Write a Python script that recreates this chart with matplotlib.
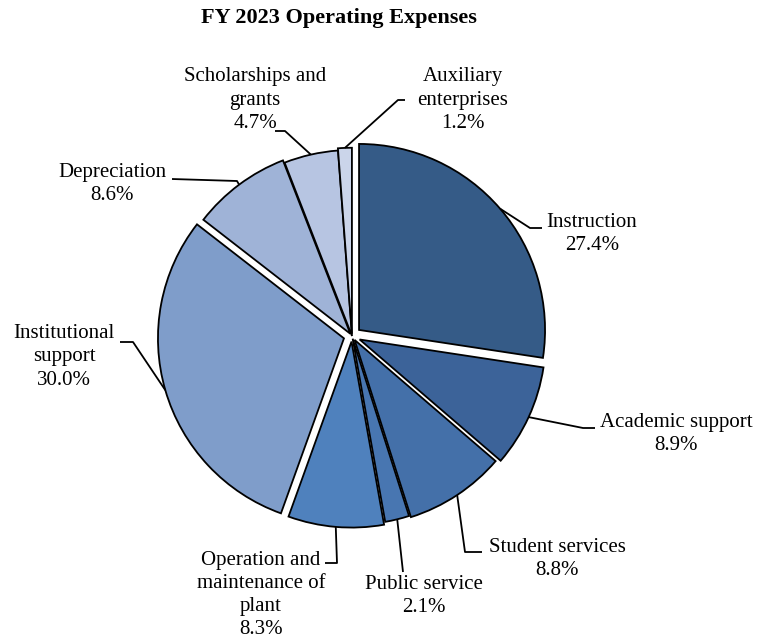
import numpy as np
import matplotlib
matplotlib.use("Agg")
import matplotlib.pyplot as plt

title = "FY 2023 Operating Expenses"
categories = ["Instruction", "Academic support", "Student services", "Public service",
              "Operation and\nmaintenance of\nplant", "Institutional\nsupport",
              "Depreciation", "Scholarships and\ngrants", "Auxiliary\nenterprises"]
values = [27.4, 8.9, 8.8, 2.1, 8.3, 30.0, 8.6, 4.7, 1.2]
colors = ["#355b87", "#3c6399", "#4470a9", "#4876b1", "#4f81bd",
          "#7f9dca", "#9fb3d7", "#b7c5e2", "#cbd5ea"]
explode = [0.05, 0.045, 0.025, 0.015, 0.03, 0.045, 0.015, 0.0, 0.012]

W, H = 758, 643
def Y(y):
    return H - y

# label layout in pixel coords: (text center x, text center y, elbow, end)
label_pos = [
    (592, 234, (530, 228), (542, 228)),
    (676, 434, (583, 428), (595, 428)),
    (557, 559, (465, 552), (482, 552)),
    (424, 596, (403, 572), None),
    (261, 595, (337, 563), (325, 563)),
    (64, 357, (133, 342), (120, 342)),
    (112, 184, (237, 181), (172, 179)),
    (255, 100, (285, 131), (275, 131)),
    (463, 100, (398, 100), (405, 100)),
]

plt.rcParams['font.family'] = ['Liberation Serif', 'DejaVu Serif']
fig = plt.figure(figsize=(W / 100, H / 100), dpi=100)
ax = fig.add_axes([0, 0, 1, 1])

cx, cy, R = 352, Y(336), 186
wedges, _ = ax.pie(values, colors=colors, explode=[e * R for e in explode],
                   startangle=90, counterclock=False, center=(cx, cy), radius=R,
                   wedgeprops=dict(edgecolor='black', linewidth=1.3),
                   frame=True)
ax.set_xlim(0, W)
ax.set_ylim(0, H)
ax.set_aspect('equal')
ax.axis('off')

for i, (w, lab, v) in enumerate(zip(wedges, categories, values)):
    mid = np.deg2rad((w.theta1 + w.theta2) / 2)
    wx, wy = w.center
    ax_pt = (wx + R * np.cos(mid), wy + R * np.sin(mid))
    tx, ty, elbow, end = label_pos[i]
    xs = [ax_pt[0], elbow[0]]
    ys = [ax_pt[1], Y(elbow[1])]
    if end is not None:
        xs.append(end[0])
        ys.append(Y(end[1]))
    ax.plot(xs, ys, color='black', linewidth=1.3, solid_capstyle='butt', zorder=3)
    ax.text(tx, Y(ty), f"{lab}\n{v:.1f}%", ha='center', va='center',
            fontsize=15, linespacing=1.3, color='black')

ax.text(339, Y(18), title, ha='center', va='center', fontsize=16,
        fontweight='bold')

fig.savefig("out.png", dpi=100)
